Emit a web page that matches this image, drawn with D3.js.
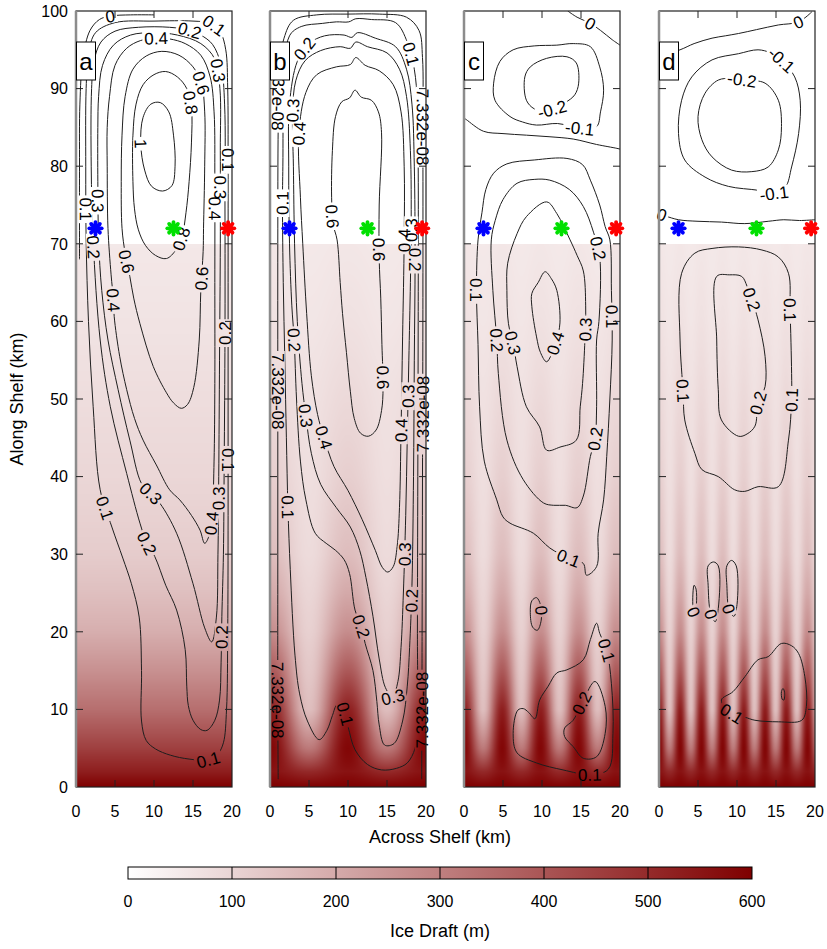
<!DOCTYPE html>
<html>
<head>
<meta charset="utf-8">
<script src="https://cdn.jsdelivr.net/npm/d3@7"></script>
<style>
body { margin: 0; background: #fff; }
text { font-family: "Liberation Sans", Arial, sans-serif; fill: #000; }
</style>
</head>
<body>
<div id="chart"></div>
<script>
// ---- data ----
const panelNames = ["a", "b", "c", "d"];
const acrossTicks = [0, 5, 10, 15, 20];
const alongTicks = [0, 10, 20, 30, 40, 50, 60, 70, 80, 90, 100];
const draftTicks = [0, 100, 200, 300, 400, 500, 600];

// along-shelf ice draft profile (m) and channel modulation
const draftY    = [0,   2,   5,   10,  15,  20,  25,  30,  40,  50,  60,  70];
const draftMean = [600, 530, 450, 340, 260, 190, 150, 120, 95,  80,  65,  55];
const chanAmp   = [0,  0.05, 0.3, 0.55, 0.5, 0.42, 0.35, 0.3, 0.2, 0.12, 0.08, 0.05];
const chanPeriod = [0, 10, 4.9, 2.72];   // km, per panel (a has no channels)

const stationX = [2.5, 12.5, 19.5];
const stationY = 72;
const stationColor = ["#0000ff", "#00e000", "#ff0000"];

// contours: level label, closed?, points [across km, along km]
const contoursA = [
  { level: "0", closed: false, pts: [[0.45,68],[0.45,80],[0.5,88],[0.9,94],[1.8,97.5],[3,98.9],[4.4,99.35],[7,99.5],[10,99.5]] },
  { level: "0.1", closed: true, pts: [[1.3,90],[1.25,80],[1.3,70.5],[1.6,60],[2.2,49],[3.1,38.3],[4.6,33.5],[6.0,29.5],[7.1,26.2],[8.1,21.9],[8.4,15],[8.4,8.5],[9.0,6.0],[10.2,4.9],[12.1,4.1],[14.5,3.6],[16.9,3.5],[18.2,4.3],[18.9,5.7],[19.3,10],[19.45,20],[19.5,35],[19.5,50],[19.5,65],[19.5,80],[19.45,90],[19.2,95],[18.5,97.3],[17.3,98.4],[15,98.7],[10,98.7],[5,98.5],[2.5,97.2],[1.6,94.5]] },
  { level: "0.2", closed: true, pts: [[2.0,90],[1.95,80],[2.2,70.5],[3.1,57.6],[4.4,49],[6.5,40.4],[8.2,34],[9.1,31.4],[10.1,29.7],[11.5,26],[12.9,22.8],[14.0,17.7],[14.2,13],[14.4,10.5],[15.0,8.6],[16.0,7.4],[16.8,7.3],[17.8,8.6],[18.4,11.2],[18.6,16],[18.7,22],[18.9,30],[19.0,42],[19.1,58],[19.1,75],[19.05,88],[18.6,93],[17.5,95.7],[16,96.9],[14.6,97.5],[12,97.9],[8,97.9],[5,97.4],[3.2,96],[2.3,93.5]] },
  { level: "0.3", closed: true, pts: [[2.8,85],[2.8,78],[2.9,70.5],[3.3,64],[4.1,57.6],[5.4,51.2],[6.9,44.7],[8.4,39.1],[9.6,37.8],[10.8,36.5],[12.9,32.7],[15.0,26.2],[16.5,20.5],[17.4,18.7],[18.0,21.9],[18.2,30],[18.3,40],[18.4,55],[18.5,70],[18.5,82],[18.45,90],[17.8,93.8],[16,95.8],[13,96.9],[10,97.2],[7,96.9],[4.8,95.6],[3.4,93],[2.9,89]] },
  { level: "0.4", closed: true, pts: [[4.0,80],[4.1,72],[4.5,66],[4.8,62.8],[4.9,60.6],[5.6,55.5],[6.5,51.2],[7.5,47.5],[8.6,44.7],[10.3,41.5],[12.0,38.3],[13.3,37],[14.8,35],[15.9,33.1],[16.5,31.4],[17.1,32.5],[17.5,36],[17.7,42],[17.8,52],[17.8,65],[17.8,78],[17.7,87],[17.2,91.5],[16,94.3],[14,95.8],[12,96.4],[10.3,96.5],[8.3,96.2],[6.5,95.2],[5,93],[4.3,89],[4.0,85]] },
  { level: "0.6", closed: true, pts: [[5.8,78],[5.9,84],[6.3,89],[7.3,92.5],[9,94.2],[11,94.8],[13.2,94.3],[15,92.8],[16.1,90.6],[16.5,87],[16.5,80],[16.35,72],[16.3,69],[16.0,64.0],[15.8,57.6],[15.1,51.5],[14.3,49.3],[13.5,48.8],[12.5,49.5],[11.6,50.8],[9.9,54.2],[8.2,59.7],[7.4,63],[6.9,65.8],[6.3,68.8],[5.9,72]] },
  { level: "0.8", closed: true, pts: [[7.3,78],[7.3,84],[7.7,88],[8.6,90.5],[10,91.8],[11.5,92.2],[13,91.5],[14.2,90],[14.8,87.5],[14.8,83],[14.5,78],[14.1,74],[13.6,71],[12.8,69.2],[11.6,68.1],[10.2,68.5],[8.9,69.8],[8.0,71.8],[7.5,74.5]] },
  { level: "1", closed: true, pts: [[8.3,82.9],[8.6,86.3],[9.6,88.0],[10.8,88.2],[11.9,87],[12.5,84],[12.7,80],[12.3,77.5],[11.1,76.8],[9.7,77.4],[8.8,79.5]] }
];
const labelsA = [
  ["0",4.4,99.4],["0.4",10.3,96.5],["0.2",14.6,97.5],["0.1",17.8,98.2],["0.3",18.4,92.4],["0.6",16.2,90.8],
  ["0.8",15.0,88.3],["1",8.4,82.9],["0.1",19.5,80.8],["0.3",18.4,77.3],["0.4",17.8,74.5],["0.1",1.25,74.4],
  ["0.3",2.8,75.6],["0.8",13.6,70.6],["0.2",2.1,69.5],["0.6",6.5,67.7],["0.6",15.9,65.5],["0.4",4.8,62.8],
  ["0.2",19.1,58.5],["0.1",19.5,42.1],["0.1",3.8,36.0],["0.3",9.6,37.8],["0.3",18.2,37.2],["0.4",17.2,34],
  ["0.2",9.1,31.4],["0.2",18.5,19.3],["0.1",16.9,3.6]
];

const contoursB = [
  { level: "7.332e-08", closed: false, pts: [[1.05,1],[1.0,10],[1.0,30],[1.0,50],[1.0,70],[1.05,85],[1.2,92],[1.8,96.5],[3,98.8],[6,99.5],[10,99.6],[14,99.6],[17.5,99.2],[19.1,97.5],[19.55,94],[19.6,85],[19.6,60],[19.55,40],[19.5,20],[19.45,1]] },
  { level: "0.1", closed: true, pts: [[1.8,90],[1.65,80],[1.6,75],[1.7,65],[1.9,55],[2.1,45],[2.3,36],[2.6,28],[3.2,17],[3.8,12],[4.8,8.5],[6.3,6.1],[7.3,7.3],[8.0,9.2],[8.6,10.6],[9.3,10.3],[10.0,7.8],[10.9,4.8],[12.5,2.9],[14.3,2.2],[16.2,2.4],[17.6,3.1],[18.6,5],[18.9,8],[18.9,19.8],[18.95,40],[19.0,60],[19.0,80],[18.9,88],[18.5,92.5],[17.6,96],[16.1,98.5],[13,98.9],[11,99],[10.1,98.6],[8.5,98.6],[6.7,98.4],[4,98.0],[2.5,96.8]] },
  { level: "0.2", closed: true, pts: [[2.5,88],[2.4,80],[2.5,70],[2.8,62],[3.1,57.6],[3.4,50],[3.9,42],[4.6,37],[5.8,32.7],[7.2,31.4],[8.4,30.5],[9.5,29.3],[10.2,27.5],[10.9,22.8],[11.7,20.7],[12.2,18.5],[13.2,15.0],[13.7,11],[14.0,8],[14.7,5.4],[15.9,5.6],[17.0,8.5],[17.6,13],[17.9,18],[18.2,26],[18.4,40],[18.5,55],[18.6,68],[18.5,80],[18.2,88],[17.5,92.5],[16.1,95.4],[13.5,96.5],[11.2,97.2],[10.5,96.6],[9.5,96.9],[7,96.8],[5,95.8],[3.5,93.5]] },
  { level: "0.3", closed: true, pts: [[2.9,87],[3.0,80],[3.15,70],[3.5,60],[4.1,52],[4.6,47.8],[5.3,43],[6.5,39],[8.5,36],[10.3,33.5],[11.5,30.5],[12.3,27],[13.2,22],[14.0,16.5],[14.8,12.8],[15.7,11.6],[16.4,13.6],[16.8,18],[17.1,25],[17.4,35],[17.6,45],[17.8,55],[18.0,65],[18.1,72],[18.0,82],[17.5,89],[16.6,92.5],[15,94.6],[12.5,95.4],[11.0,96.0],[10.3,95.2],[9,95.4],[6.5,94.9],[4.5,93.6],[3.3,91]] },
  { level: "0.4", closed: true, pts: [[3.7,84.2],[3.9,76],[4.2,70],[4.7,61],[5.3,53],[6.1,48],[6.9,45.1],[8.2,41.3],[10,38.2],[11.8,34.5],[13.5,30.5],[14.4,28.3],[15.1,27.7],[15.8,28.4],[16.3,31],[16.6,36],[16.8,45.9],[17.0,58],[17.2,70.5],[17.2,80],[16.8,87],[15.8,90.5],[14,92.3],[12.2,93.0],[11.0,94.0],[10.3,93.1],[8.5,92.8],[6,91.8],[4.6,89.5]] },
  { level: "0.6", closed: true, pts: [[10.9,89.8],[10.2,88.8],[9.2,88.3],[8.4,86.4],[8.0,82],[7.9,76],[8.1,72.5],[8.6,70.5],[9.0,65],[9.3,61],[9.8,56],[10.3,51],[10.8,47.5],[11.6,45.6],[12.6,45.2],[13.6,46.0],[14.3,48.5],[14.5,51.5],[14.35,57],[14.2,63],[14.0,68],[14.0,75],[14.3,84.3],[13.9,87.0],[13.0,88.5],[11.7,88.9]] }
];
const labelsB = [
  ["0.2",4.6,95],["0.1",18.2,94.5],["7.332e-08",1.0,89.5,true],["0.3",2.9,87.2],["0.4",3.7,84.2],["7.332e-08",19.6,85],
  ["0.1",1.6,75.2],["0.6",7.9,73.5],["0.6",13.9,69.2],["0.4",17.2,70.5],["0.3",18.1,71.8],["0.2",18.6,68.0],
  ["0.2",3.1,57.6],["7.332e-08",1.0,51],["0.6",14.3,52.8],["0.3",4.6,47.8],["0.4",6.9,45.1],["0.4",16.8,45.9],
  ["0.3",18.0,50.3],["7.332e-08",19.6,48],["0.1",2.2,36.1],["0.3",17.4,30],["0.2",18.2,24],["0.2",11.7,20.7],
  ["0.3",15.7,11.6],["0.1",9.4,9.4],["7.332e-08",1.0,11.2],["7.332e-08",19.5,9.9]
];

const contoursC = [
  { level: "0", closed: false, pts: [[13.3,100],[14.5,99.2],[16.2,98.4],[17.5,97.5],[19,96.3],[20,95.6]] },
  { level: "-0.1", closed: true, pts: [[3.97,88.5],[3.8,90.7],[4.6,93.5],[6.3,95.0],[9,95.5],[11.9,95.6],[14,95.8],[16.2,95.4],[17.4,92.8],[17.9,89.8],[17.5,87],[17.0,85.1],[14.9,84.9],[12,85.5],[9.3,85.3],[7.5,85.7],[5.9,86.4]] },
  { level: "-0.2", closed: true, pts: [[7.8,91.5],[8.0,88.5],[9.0,87.4],[10.2,87.2],[11.5,87.4],[13,88.2],[14.2,89.2],[14.7,90.7],[14.4,93.3],[13.2,94.1],[10.6,93.9],[8.5,92.8]] },
  { level: "0", closed: false, pts: [[0,86.2],[0.3,86],[2.5,84.5],[5,84.2],[8,84],[10.9,83.8],[14,83.5],[17,82.8],[19.6,82.3],[20,82.2]] },
  { level: "0.1", closed: true, pts: [[1.8,70.5],[2.3,74],[2.8,77],[3.8,79.1],[5.5,80.3],[9,80.8],[13.2,81.0],[15.2,80.2],[16.2,78.2],[17.4,75],[18.1,72.2],[18.7,70.5],[18.9,64],[19.0,57.6],[18.7,50],[18.3,42.6],[17.9,37],[17.2,32.7],[17.0,28.4],[15.7,27.3],[15.3,28.8],[13.4,29.5],[11.0,30.8],[8.9,32.7],[5.9,34],[5.0,34.8],[4.2,37],[2.6,42],[2.0,49],[1.8,57],[1.6,64]] },
  { level: "0.2", closed: true, pts: [[3.5,70.5],[4.0,73],[5.0,75.7],[6.8,77.8],[9,78.3],[11.0,78.2],[13.5,77],[15.3,74.8],[16.6,71.5],[17.4,68.3],[17.3,60],[17.0,57.6],[17.0,49],[16.8,44.8],[16.2,42.6],[15.3,37.5],[14.5,36],[13,36.3],[11.5,36.3],[10.2,36.6],[7.6,39.6],[5.5,44.7],[4.4,53.3],[4.2,57.6],[3.7,64]] },
  { level: "0.3", closed: true, pts: [[5.6,67.5],[6.8,71.3],[8.0,73.5],[10.6,75.4],[11.9,73.9],[13.6,70.5],[14.5,68.5],[15.3,66.5],[15.6,62],[15.5,57.6],[15.2,52],[14.9,49],[14.4,44.7],[12.3,43.8],[10.6,43.4],[9.7,46.4],[8.0,49],[6.8,54.2],[6.3,57.2],[5.7,59.7],[5.5,64]] },
  { level: "0.4", closed: true, pts: [[8.7,61.9],[8.7,63.6],[9.5,65],[10.4,66.4],[11.2,65.5],[11.9,64.0],[12.3,59.8],[11.8,57.5],[10.6,54.8],[9.8,56],[9.3,58.0]] },
  { level: "0", closed: true, pts: [[8.5,22.5],[8.7,24],[9.3,24.4],[9.8,23.5],[9.9,21.5],[9.4,20.2],[8.8,20.6]] },
  { level: "0.1", closed: true, pts: [[17.0,21.1],[16.2,19],[15.3,16.4],[13.2,15.1],[11.9,14.7],[10.8,13],[9.7,11.2],[9.1,8.8],[8.3,9.6],[7.6,10.1],[6.9,9.9],[6.3,6.9],[6.8,4.4],[9.3,3.1],[12.7,2.2],[16.2,1.6],[18.5,2.3],[19.1,6.9],[18.9,13.3],[18.3,17.6],[17.4,19.8]] },
  { level: "0.2", closed: true, pts: [[16.8,13.6],[18.1,10.4],[18.1,6.9],[17.0,3.9],[15.3,3.7],[14.0,5.2],[12.9,6.5],[12.9,7.6],[14.0,8.6],[15.3,11.2]] }
];
const labelsC = [
  ["0",16.2,98.4],["-0.2",11.2,87.5],["-0.1",14.8,85.0],["0.2",17.6,69.5],["0.1",1.6,64],["0.2",4.2,57.6],
  ["0.3",6.3,57.2],["0.4",11.5,57.2],["0.3",16.4,58.9],["0.1",19.0,60.6],["0.2",16.8,44.8],["0.1",13.4,29.5],
  ["0",10.2,22.8],["0.1",18.2,17.6],["0.2",15.2,10.8],["0.1",16.1,1.6]
];

const contoursD = [
  { level: "0", closed: false, pts: [[0,94.2],[2.7,95],[4.5,95.8],[6.8,96.5],[8.5,96.8],[10.2,97.1],[12.5,97.6],[15.3,98.2],[17.9,98.6],[19.6,99.9]] },
  { level: "-0.1", closed: true, pts: [[15.7,93.7],[17.4,91.5],[18.1,88.5],[17.9,84.2],[17.0,79.9],[16.2,77.3],[14.7,76.5],[12.7,76.9],[8.9,77.4],[5.9,78.6],[3.3,80.8],[2.5,84.2],[2.9,88.5],[4.2,91.5],[6.8,93.7],[10.2,94.5],[12.7,95.0],[14.3,94.6]] },
  { level: "-0.2", closed: true, pts: [[11.0,91.1],[13.6,90.7],[15.3,88.5],[15.7,85.1],[15.3,82.1],[14.0,79.9],[11.9,79.3],[9.3,79.5],[6.8,81.2],[5.5,83.4],[5.0,86.4],[5.9,89.4],[7.6,91.1],[9.3,91.3]] },
  { level: "0", closed: false, pts: [[0,73.9],[0.8,73.6],[2.5,73.1],[5,72.9],[8,72.8],[11.0,72.6],[14,72.9],[16,73.1],[18,73.0],[20,73.1]] },
  { level: "0.1", closed: true, pts: [[3.1,50.8],[2.7,57.6],[2.9,66.2],[4.6,68.8],[6.8,69.4],[10.2,69.6],[13.2,69.2],[15.3,68.3],[16.6,66.2],[16.8,61.5],[17.0,53.3],[17.0,49.9],[16.6,44.7],[15.3,38.7],[12.7,38.7],[11.0,38.1],[9.7,38.3],[7.6,40],[5.5,40.9],[4.6,43.0],[3.3,47.3]] },
  { level: "0.2", closed: true, pts: [[7.4,65.8],[9,66],[10.6,65.8],[11.3,64.5],[11.9,62.8],[12.7,60.2],[13.6,55.5],[13.6,51.6],[12.7,49.5],[12.3,46.5],[11.3,45.5],[10.2,45.2],[8.0,47.3],[7.6,51.2],[7.4,57.6]] },
  { level: "0", closed: true, pts: [[4.5,26],[4.75,25.5],[4.8,23.5],[4.6,22.2],[4.35,23.2]] },
  { level: "0", closed: true, pts: [[6.3,28.5],[7.0,29.0],[7.6,28.5],[7.6,23],[7.2,21.3],[6.6,22.5],[6.3,26]] },
  { level: "0", closed: true, pts: [[8.7,28.5],[9.3,29.2],[9.9,28.5],[10.0,23.5],[9.6,22.0],[9.0,22.8],[8.7,26]] },
  { level: "0", closed: true, pts: [[15.7,12.3],[15.9,12.7],[16.1,12.2],[16.0,11.2],[15.8,11.3]] },
  { level: "0.1", closed: true, pts: [[8.0,11.2],[9.5,12.3],[11.0,14.2],[12.7,16.4],[14.0,16.8],[15.7,18.5],[17.0,18.2],[17.9,17.2],[18.7,14.2],[18.9,10.4],[18.3,8.6],[15.3,8.4],[12.3,8.6],[11.0,9.0],[9.4,9.4]] }
];
const labelsD = [
  ["0",17.9,98.5],["-0.1",15.6,93.6],["-0.2",10.6,91.2],["-0.1",14.8,76.5],["0",0.4,73.8],["0.1",3.1,51],
  ["0.1",16.8,61.5],["0.1",17.0,49.9],["0.2",11.9,62.8],["0.2",12.7,49.5],["0",4.5,22.6],["0",7.0,22.4],
  ["0",9.3,23.0],["0.1",9.3,9.4]
];

const panelContours = [contoursA, contoursB, contoursC, contoursD];
const panelLabels = [labelsA, labelsB, labelsC, labelsD];

// ---- layout ----
const W = 827, H = 949;
const panelLeft = [76, 270, 464, 659], panelW = 156;
const plotTop = 11, plotBottom = 787;

const svg = d3.select("#chart").append("svg").attr("width", W).attr("height", H);
const defs = svg.append("defs");

const y = d3.scaleLinear().domain([0, 100]).range([plotBottom, plotTop]);
const color = d3.scaleLinear().domain([0, 600]).range(["#ffffff", "#7f0000"]);
const meanAt = d3.scaleLinear().domain(draftY).range(draftMean).clamp(true);
const ampAt = d3.scaleLinear().domain(draftY).range(chanAmp).clamp(true);
const lut = d3.range(601).map(v => d3.rgb(color(v)));

panelNames.forEach((name, i) => {
  const x0 = panelLeft[i];
  const x = d3.scaleLinear().domain([0, 20]).range([x0, x0 + panelW]);
  const g = svg.append("g");

  // ice draft field below 70 km
  const top70 = Math.round(y(70));
  const hpx = plotBottom - top70;
  const cv = document.createElement("canvas");
  cv.width = panelW; cv.height = hpx;
  const ctx = cv.getContext("2d");
  const img = ctx.createImageData(panelW, hpx);
  for (let r = 0; r < hpx; r++) {
    const yk = y.invert(top70 + r + 0.5);
    const D = meanAt(yk), A = ampAt(yk);
    for (let c = 0; c < panelW; c++) {
      const xk = x.invert(x0 + c + 0.5);
      let d = D;
      if (chanPeriod[i]) d = D * (1 + A * Math.cos(2 * Math.PI * xk / chanPeriod[i]));
      const col = lut[Math.max(0, Math.min(600, Math.round(d)))];
      const k = (r * panelW + c) * 4;
      img.data[k] = col.r; img.data[k + 1] = col.g; img.data[k + 2] = col.b; img.data[k + 3] = 255;
    }
  }
  ctx.putImageData(img, 0, 0);
  g.append("image")
    .attr("href", cv.toDataURL())
    .attr("x", x0).attr("y", top70)
    .attr("width", panelW).attr("height", hpx)
    .attr("preserveAspectRatio", "none");

  // contour lines
  const maskId = "mask-" + name;
  const mask = defs.append("mask").attr("id", maskId)
    .attr("maskUnits", "userSpaceOnUse")
    .attr("x", 0).attr("y", 0).attr("width", W).attr("height", H);
  mask.append("rect").attr("width", W).attr("height", H).attr("fill", "#fff");

  const clipId = "clip-" + name;
  defs.append("clipPath").attr("id", clipId).append("rect")
    .attr("x", x0).attr("y", plotTop).attr("width", panelW).attr("height", plotBottom - plotTop);

  const lineOpen = d3.line().x(d => x(d[0])).y(d => y(d[1])).curve(d3.curveCatmullRom);
  const lineClosed = d3.line().x(d => x(d[0])).y(d => y(d[1])).curve(d3.curveCatmullRomClosed);

  const cg = g.append("g").attr("clip-path", `url(#${clipId})`)
    .append("g").attr("mask", `url(#${maskId})`);
  const paths = cg.selectAll("path")
    .data(panelContours[i])
    .enter().append("path")
    .attr("d", d => (d.closed ? lineClosed : lineOpen)(d.pts))
    .attr("fill", "none")
    .attr("stroke", "#1e1e1e")
    .attr("stroke-width", 1);

  // contour labels, snapped onto their line
  const lg = g.append("g");
  panelLabels[i].forEach(([txt, lx, ly, flip]) => {
    const px = x(lx), py = y(ly);
    let best = null;
    paths.filter(d => d.level === txt).each(function () {
      const L = this.getTotalLength();
      for (let l = 0; l <= L; l += 1) {
        const p = this.getPointAtLength(l);
        const dd = (p.x - px) ** 2 + (p.y - py) ** 2;
        if (!best || dd < best.dd) best = { dd, node: this, l, p, L };
      }
    });
    let ax = px, ay = py, ang = 0;
    if (best) {
      const a = best.node.getPointAtLength(Math.max(0, best.l - 5));
      const b = best.node.getPointAtLength(Math.min(best.L, best.l + 5));
      ang = Math.atan2(b.y - a.y, b.x - a.x) * 180 / Math.PI;
      if (ang > 90) ang -= 180;
      if (ang <= -90) ang += 180;
      if (flip) ang += 180;
      ax = best.p.x; ay = best.p.y;
    }
    const t = lg.append("text")
      .attr("transform", `translate(${ax},${ay}) rotate(${ang})`)
      .attr("text-anchor", "middle")
      .attr("dy", "0.36em")
      .attr("font-size", 17)
      .text(txt);
    const tw = t.node().getComputedTextLength();
    mask.append("rect")
      .attr("x", -tw / 2 - 2).attr("y", -7)
      .attr("width", tw + 4).attr("height", 14)
      .attr("transform", `translate(${ax},${ay}) rotate(${ang})`)
      .attr("fill", "#000");
  });

  // frame and inward ticks
  g.append("rect")
    .attr("x", x0).attr("y", plotTop)
    .attr("width", panelW).attr("height", plotBottom - plotTop)
    .attr("fill", "none").attr("stroke", "#222").attr("stroke-width", 1.2);
  g.append("line")
    .attr("x1", x0).attr("x2", x0).attr("y1", plotTop).attr("y2", plotBottom)
    .attr("stroke", "#8c8c8c").attr("stroke-width", 2.5);

  const tk = g.append("g").attr("stroke", "#222").attr("stroke-width", 1);
  acrossTicks.slice(1, -1).forEach(v => {
    tk.append("line").attr("x1", x(v)).attr("x2", x(v)).attr("y1", plotBottom).attr("y2", plotBottom - 7);
    tk.append("line").attr("x1", x(v)).attr("x2", x(v)).attr("y1", plotTop).attr("y2", plotTop + 7);
  });
  alongTicks.slice(1, -1).forEach(v => {
    tk.append("line").attr("x1", x0).attr("x2", x0 + 7).attr("y1", y(v)).attr("y2", y(v));
    tk.append("line").attr("x1", x0 + panelW).attr("x2", x0 + panelW - 7).attr("y1", y(v)).attr("y2", y(v));
  });

  g.append("g").selectAll("text")
    .data(acrossTicks).enter().append("text")
    .attr("x", d => x(d)).attr("y", 817)
    .attr("text-anchor", "middle").attr("font-size", 16)
    .text(d => d);

  if (i === 0) {
    g.append("g").selectAll("text")
      .data(alongTicks).enter().append("text")
      .attr("x", x0 - 8).attr("y", d => y(d))
      .attr("dy", "0.36em")
      .attr("text-anchor", "end").attr("font-size", 16)
      .text(d => d);
  }

  // stations
  const st = g.append("g");
  stationX.forEach((sx, k) => {
    const cx = x(sx), cy = y(stationY);
    [0, 45, 90, 135].forEach(a => {
      const r = 6.2, rad = a * Math.PI / 180;
      st.append("line")
        .attr("x1", cx - r * Math.cos(rad)).attr("y1", cy - r * Math.sin(rad))
        .attr("x2", cx + r * Math.cos(rad)).attr("y2", cy + r * Math.sin(rad))
        .attr("stroke", stationColor[k]).attr("stroke-width", 3.8)
        .attr("stroke-linecap", "round");
    });
    st.append("circle").attr("cx", cx).attr("cy", cy).attr("r", 3.2).attr("fill", stationColor[k]);
  });

  // panel letter
  g.append("rect")
    .attr("x", x0 + 0.5).attr("y", 42)
    .attr("width", 19).attr("height", 38)
    .attr("fill", "#fff").attr("stroke", "#000").attr("stroke-width", 1);
  g.append("text")
    .attr("x", x0 + 10).attr("y", 61).attr("dy", "0.36em")
    .attr("text-anchor", "middle").attr("font-size", 24)
    .text(name);
});

// axis titles
svg.append("text")
  .attr("transform", `translate(23,${(plotTop + plotBottom) / 2}) rotate(-90)`)
  .attr("text-anchor", "middle").attr("font-size", 18)
  .text("Along Shelf (km)");
svg.append("text")
  .attr("x", 440).attr("y", 843)
  .attr("text-anchor", "middle").attr("font-size", 18)
  .text("Across Shelf (km)");

// colour bar
const cb = d3.scaleLinear().domain([0, 600]).range([128, 752]);
const grad = defs.append("linearGradient").attr("id", "cbar");
grad.selectAll("stop").data([0, 600]).enter().append("stop")
  .attr("offset", d => d / 600).attr("stop-color", d => color(d));
svg.append("rect")
  .attr("x", cb(0)).attr("y", 867).attr("width", cb(600) - cb(0)).attr("height", 12)
  .attr("fill", "url(#cbar)").attr("stroke", "#000").attr("stroke-width", 1);
svg.append("g").selectAll("line")
  .data(draftTicks.slice(1, -1)).enter().append("line")
  .attr("x1", d => cb(d)).attr("x2", d => cb(d)).attr("y1", 867).attr("y2", 879)
  .attr("stroke", "#000").attr("stroke-width", 1);
svg.append("g").selectAll("text")
  .data(draftTicks).enter().append("text")
  .attr("x", d => cb(d)).attr("y", 907)
  .attr("text-anchor", "middle").attr("font-size", 16)
  .text(d => d);
svg.append("text")
  .attr("x", 440).attr("y", 937)
  .attr("text-anchor", "middle").attr("font-size", 18)
  .text("Ice Draft (m)");
</script>
</body>
</html>
